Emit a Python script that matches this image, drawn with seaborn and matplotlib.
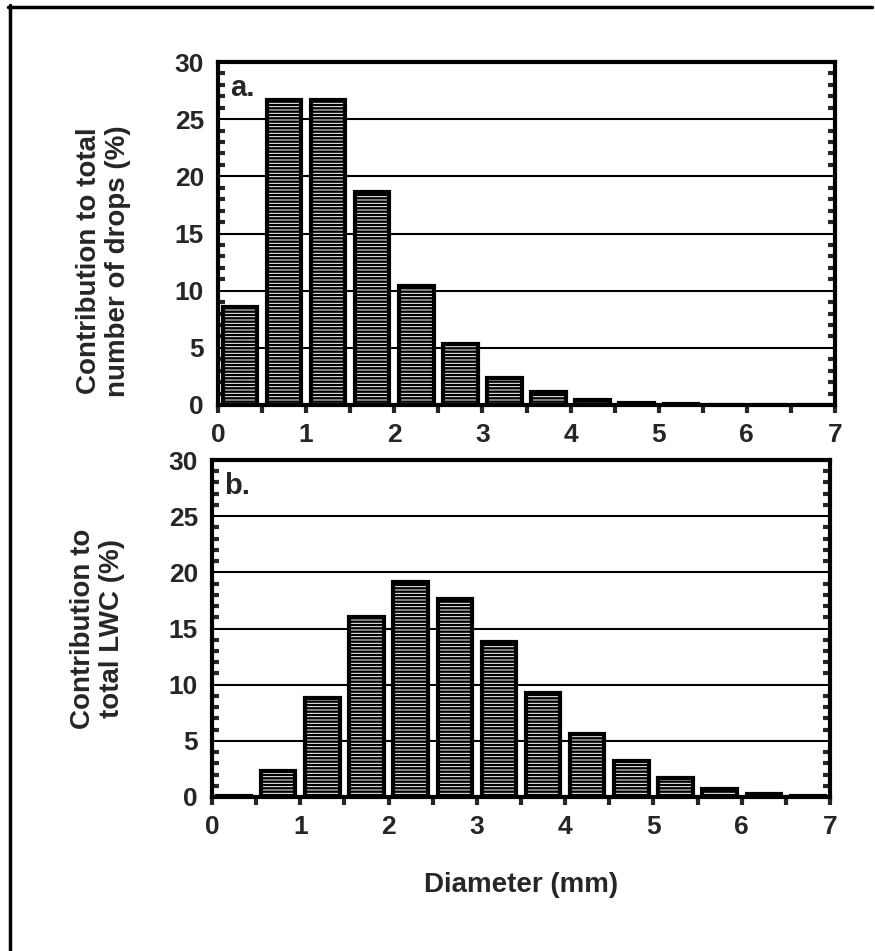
import matplotlib
matplotlib.use("Agg")
import matplotlib.pyplot as plt
import seaborn as sns
import numpy as np
from matplotlib.lines import Line2D
from matplotlib.ticker import MultipleLocator

# bin centres (mm) and percentages
diameter = [0.25, 0.75, 1.25, 1.75, 2.25, 2.75, 3.25, 3.75, 4.25, 4.75, 5.25, 5.75, 6.25, 6.75]
pct_drops = [8.6, 26.7, 26.7, 18.6, 10.4, 5.3, 2.4, 1.15, 0.4, 0.15, 0.05, 0.02, 0.0, 0.0]
pct_lwc = [0.05, 2.3, 8.8, 16.0, 19.1, 17.6, 13.8, 9.3, 5.6, 3.2, 1.7, 0.7, 0.25, 0.1]

xticks = [0, 1, 2, 3, 4, 5, 6, 7]
yticks = [0, 5, 10, 15, 20, 25, 30]

sns.set_style("ticks")
plt.rcParams['font.family'] = ['Liberation Sans', 'DejaVu Sans']
plt.rcParams['font.weight'] = 'bold'
plt.rcParams['hatch.linewidth'] = 1.7

W, H = 875, 951
fig = plt.figure(figsize=(W / 100, H / 100), dpi=100)

def frac(left, top, right, bottom):
    return [left / W, 1 - bottom / H, (right - left) / W, (bottom - top) / H]

ax_a = fig.add_axes(frac(218, 62, 835, 405))
ax_b = fig.add_axes(frac(212, 460, 830, 797))

panels = [
    (ax_a, pct_drops, "a.", "Contribution to total\nnumber of drops (%)", 0.42),
    (ax_b, pct_lwc, "b.", "Contribution to\ntotal LWC (%)", 0.5),
]

for ax, vals, tag, ylab, ly in panels:
    sns.barplot(x=diameter, y=vals, native_scale=True, width=0.78, color='white',
                edgecolor='black', linewidth=3, hatch='-----', ax=ax, zorder=3)
    ax.set_xlim(0, 7)
    ax.set_ylim(0, 30)
    ax.set_axisbelow(True)
    ax.yaxis.grid(True, color='black', linewidth=1.5)
    ax.set_xticks(xticks)
    ax.set_xticklabels([str(t) for t in xticks])
    ax.set_yticks(yticks)
    ax.xaxis.set_minor_locator(MultipleLocator(0.5))
    ax.yaxis.set_minor_locator(MultipleLocator(1))
    ax.tick_params(axis='x', which='both', direction='out', length=6, width=3,
                   labelsize=19, pad=7)
    ax.tick_params(axis='y', which='both', direction='in', length=5, width=3,
                   left=True, right=True, labelsize=19, pad=10)
    ax.tick_params(axis='y', which='major', length=0)
    for s in ax.spines.values():
        s.set_visible(True)
        s.set_linewidth(3)
        s.set_color('black')
    ax.text(0.02, 0.965, tag, transform=ax.transAxes, fontsize=21, fontweight='bold',
            ha='left', va='top')
    ax.set_xlabel("")
    ax.set_ylabel(ylab, fontsize=20, fontweight='bold', linespacing=1.15,
                  ha='center', va='center')
    ax.yaxis.set_label_coords((100 - 215) / 620, ly)

ax_b.set_xlabel("Diameter (mm)", fontsize=20, fontweight='bold', labelpad=24)

# scanned page frame: top and left edges only
fig.add_artist(Line2D([8 / W, 872 / W], [1 - 7 / H, 1 - 7 / H], color='black', linewidth=2.5))
fig.add_artist(Line2D([10 / W, 10 / W], [1 - 5 / H, 0], color='black', linewidth=2.5))

fig.savefig("out.png", dpi=100, facecolor='white')
